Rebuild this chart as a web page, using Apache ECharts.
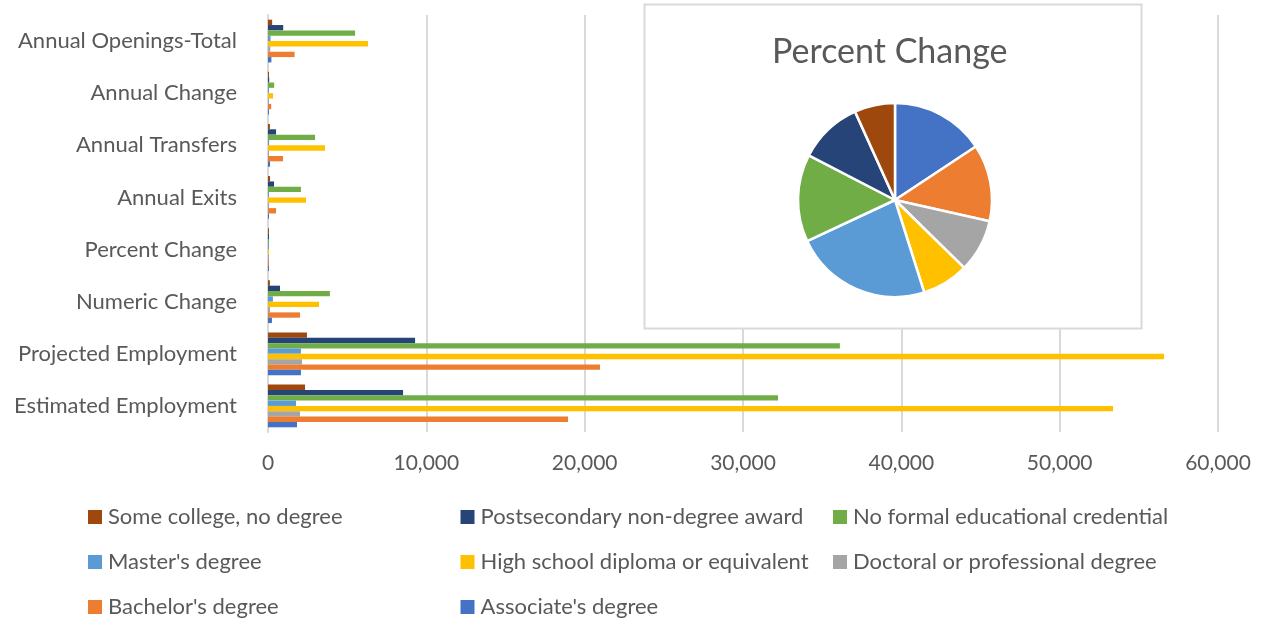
<!DOCTYPE html>
<html>
<head>
<meta charset="utf-8">
<script src="https://cdn.jsdelivr.net/npm/echarts@6/dist/echarts.min.js"></script>
<style>
  html, body { margin: 0; padding: 0; background: #ffffff; }
  #chart { width: 1263px; height: 625px; }
</style>
</head>
<body>
<div id="chart"></div>
<script>
// Employment measures (bottom to top on the category axis)
const categories = [
  'Estimated Employment', 'Projected Employment', 'Numeric Change', 'Percent Change',
  'Annual Exits', 'Annual Transfers', 'Annual Change', 'Annual Openings-Total'
];

// Values for each education level, in category order
const associates     = [1830, 2080, 250, 13.7, 60, 130, 25, 215];
const bachelors      = [18950, 20970, 2020, 11.2, 510, 950, 200, 1680];
const doctoral       = [2020, 2150, 130, 7.7, 70, 60, 13, 143];
const highSchool     = [53370, 56590, 3220, 6.8, 2400, 3600, 322, 6320];
const masters        = [1770, 2080, 310, 20.0, 60, 70, 31, 160];
const noFormal       = [32210, 36120, 3910, 12.7, 2080, 2970, 391, 5500];
const postsecondary  = [8530, 9290, 760, 9.3, 380, 510, 76, 960];
const someCollege    = [2340, 2460, 120, 5.9, 130, 120, 12, 262];

const seriesNames = [
  "Associate's degree", "Bachelor's degree", 'Doctoral or professional degree',
  'High school diploma or equivalent', "Master's degree", 'No formal educational credential',
  'Postsecondary non-degree award', 'Some college, no degree'
];
const seriesValues = [associates, bachelors, doctoral, highSchool, masters, noFormal, postsecondary, someCollege];
const seriesColors = ['#4472C4', '#ED7D31', '#A5A5A5', '#FFC000', '#5B9BD5', '#70AD47', '#264478', '#9E480E'];

const xTicks = [0, 10000, 20000, 30000, 40000, 50000, 60000];

// Legend rows, left to right
const legendRows = [
  ['Some college, no degree', 'Postsecondary non-degree award', 'No formal educational credential'],
  ["Master's degree", 'High school diploma or equivalent', 'Doctoral or professional degree'],
  ["Bachelor's degree", "Associate's degree"]
];

const FONT = 'Lato';
const TEXT = '#595959';
const pctIndex = categories.indexOf('Percent Change');

const chart = echarts.init(document.getElementById('chart'), null, { renderer: 'canvas' });

// Bars stack top-down within a category, so the last education level goes first
const barSeries = seriesNames.map((name, i) => ({
  name,
  type: 'bar',
  data: seriesValues[i],
  itemStyle: { color: seriesColors[i] },
  barGap: '0%',
  barCategoryGap: '18%',
  barMinHeight: 1,
  z: 2
})).reverse();

const pieSeries = {
  name: 'Percent Change',
  type: 'pie',
  center: [895, 200],
  radius: [0, 97],
  startAngle: 90,
  clockwise: true,
  label: { show: false },
  labelLine: { show: false },
  emphasis: { disabled: true },
  itemStyle: { borderColor: '#ffffff', borderWidth: 2.5 },
  z: 4,
  data: seriesNames.map((name, i) => ({
    name,
    value: seriesValues[i][pctIndex],
    itemStyle: { color: seriesColors[i] }
  }))
};

// One legend block per entry, laid out on a three-column grid
const legends = [];
legendRows.forEach((row, r) => {
  row.forEach((name, c) => {
    legends.push({
      data: [name],
      orient: 'horizontal',
      left: 88 + c * 372.5,
      top: 506 + r * 45,
      itemWidth: 14,
      itemHeight: 14,
      itemGap: 0,
      padding: 0,
      icon: 'rect',
      selectedMode: false,
      textStyle: { color: TEXT, fontSize: 22, fontFamily: FONT, padding: [0, 0, 0, 1] }
    });
  });
});

chart.setOption({
  animation: false,
  textStyle: { fontFamily: FONT },
  grid: { left: 268, right: 45, top: 15, bottom: 193, containLabel: false },
  xAxis: {
    type: 'value',
    min: xTicks[0],
    max: xTicks[xTicks.length - 1],
    interval: xTicks[1] - xTicks[0],
    axisLine: { show: false },
    axisTick: { show: false },
    axisLabel: {
      color: TEXT, fontSize: 21, fontFamily: FONT, margin: 21,
      formatter: v => v.toLocaleString('en-US')
    },
    splitLine: { show: true, lineStyle: { color: '#d9d9d9', width: 2 } }
  },
  yAxis: {
    type: 'category',
    data: categories,
    axisLine: { show: true, lineStyle: { color: '#d9d9d9', width: 2 } },
    axisTick: { show: false },
    axisLabel: { color: TEXT, fontSize: 22, fontFamily: FONT, margin: 31 }
  },
  legend: legends,
  title: {
    text: 'Percent Change',
    left: 767,
    top: 30,
    textStyle: { color: TEXT, fontSize: 34, fontWeight: 'normal', fontFamily: FONT }
  },
  graphic: [{
    type: 'rect',
    z: 3,
    shape: { x: 644.5, y: 4.5, width: 497, height: 324 },
    style: { fill: '#ffffff', stroke: '#d9d9d9', lineWidth: 2 }
  }],
  series: [...barSeries, pieSeries]
});
</script>
</body>
</html>
